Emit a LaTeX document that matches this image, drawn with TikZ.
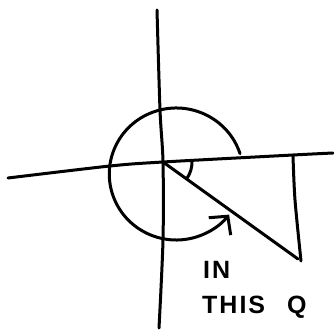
\documentclass[tikz,border=0pt]{standalone}
\usepackage{fontspec}
\newfontfamily\handfont[LetterSpace=8]{Liberation Sans}
\usetikzlibrary{arrows.meta, positioning, calc}

\begin{document}
\begin{tikzpicture}[x=1pt, y=-1pt,
        stroke/.style={line width=3pt, line cap=round, line join=round},
        label/.style={font={\handfont\bfseries\fontsize{25}{27}\selectfont}, anchor=west, inner sep=0pt}
    ]
        \useasboundingbox (0,0) rectangle (334,331);
        % Axes
        \coordinate (origin) at (163,162);
        \draw [stroke] plot[smooth] coordinates {(157,10) (160,110) (origin) (163,240) (159,328)};
        \draw [stroke] plot[smooth] coordinates {(8,178) (110,166) (origin) (293,155) (333,153)};
        % Triangle
        \coordinate (foot) at (293,156);
        \coordinate (tip) at (298,259);
        \draw [stroke] (origin) -- (tip);
        \draw [stroke] plot[smooth] coordinates {(foot) (295,200) (301,261)};
        % Angle marks
        \draw [stroke] (192,161) arc[start angle=-2, end angle=34, radius=29];
        \draw [stroke, -{Straight Barb[length=13pt, width=28pt, line width=3pt]}] (240,153.6) arc[start angle=-18, end angle=-322, x radius=67, y radius=66];
        % Text
        \node (inlabel) [label] at (203,270) {IN};
        \node (quadlabel) [label] at (202,307) {THIS\hspace{22pt}Q};
    \end{tikzpicture}
\end{document}
